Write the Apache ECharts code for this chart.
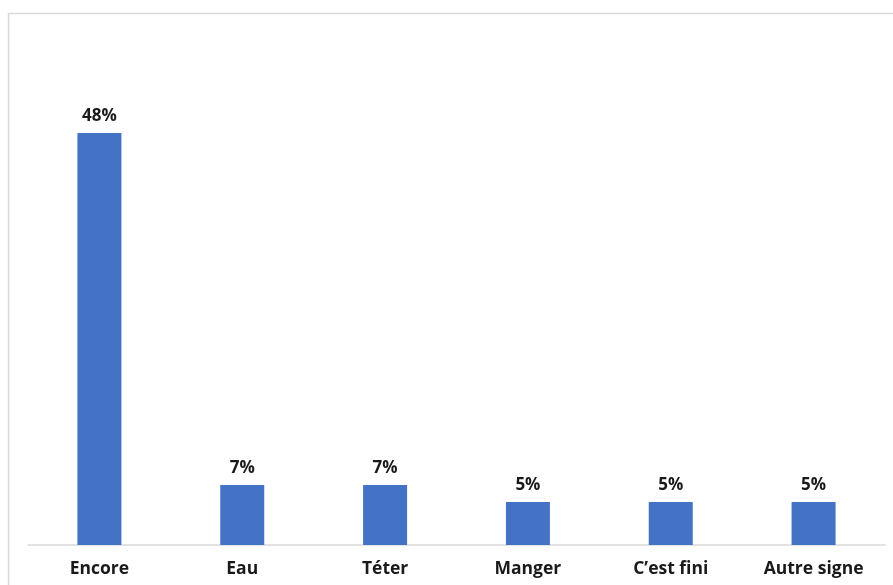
<!DOCTYPE html>
<html>
<head>
<meta charset="utf-8">
<script src="https://cdn.jsdelivr.net/npm/echarts@6/dist/echarts.min.js"></script>
<style>html,body{margin:0;padding:0;background:#fff;}#c{width:893px;height:585px;}</style>
</head>
<body>
<div id="c"></div>
<script>
const categories = ["Encore", "Eau", "Téter", "Manger", "C\u2019est fini", "Autre signe"];
const values = [48, 7, 7, 5, 5, 5];

const chart = echarts.init(document.getElementById('c'), null, {renderer: 'canvas'});
chart.setOption({
  animation: false,
  backgroundColor: '#ffffff',
  graphic: [{
    type: 'rect',
    shape: {x: 8.5, y: 13.5, width: 900, height: 600},
    style: {fill: 'none', stroke: '#d9d9d9', lineWidth: 1.5},
    silent: true
  }],
  grid: {left: 28, right: 8, top: 30, bottom: 40, containLabel: false},
  xAxis: {
    type: 'category',
    data: categories,
    axisLine: {show: true, lineStyle: {color: '#d9d9d9', width: 1.5}},
    axisTick: {show: false},
    axisLabel: {
      color: '#1a1a1a',
      fontFamily: '"Open Sans", sans-serif',
      fontWeight: 'bold',
      fontSize: 17.5,
      margin: 15,
      interval: 0
    }
  },
  yAxis: {
    type: 'value',
    min: 0,
    max: 60,
    show: false,
    splitLine: {show: false}
  },
  series: [{
    type: 'bar',
    data: values,
    barWidth: 44,
    itemStyle: {color: '#4472C4'},
    label: {
      show: true,
      position: 'top',
      distance: 8,
      formatter: '{c}%',
      color: '#1a1a1a',
      fontFamily: '"Open Sans", sans-serif',
      fontWeight: 'bold',
      fontSize: 17
    }
  }]
});
</script>
</body>
</html>
